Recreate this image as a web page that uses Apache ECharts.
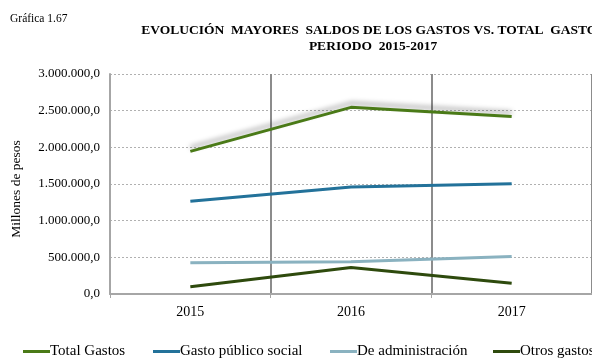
<!DOCTYPE html>
<html>
<head>
<meta charset="utf-8">
<script src="https://cdn.jsdelivr.net/npm/echarts@6/dist/echarts.min.js"></script>
<style>
html,body{margin:0;padding:0;background:#fff;}
#c{width:592px;height:360px;}
</style>
</head>
<body>
<div id="c"></div>
<script>
const categories = ['2015', '2016', '2017'];
const totalGastos = [1945000, 2545000, 2420000];
const gastoPublicoSocial = [1265000, 1460000, 1505000];
const deAdministracion = [425000, 440000, 510000];
const otrosGastos = [100000, 362000, 146000];
const seriesNames = ['Total Gastos', 'Gasto público social', 'De administración', 'Otros gastos'];
const yTicks = [0, 500000, 1000000, 1500000, 2000000, 2500000, 3000000];

const colors = ['#4a7a17', '#23729a', '#8ab2c0', '#2e4a0d'];
const serif = '"Liberation Serif", "DejaVu Serif", serif';

function fmt(v) {
  const s = Math.round(v).toString().replace(/\B(?=(\d{3})+(?!\d))/g, '.');
  return s + ',0';
}

const chart = echarts.init(document.getElementById('c'), null, {renderer: 'canvas'});
const legendLefts = [23, 153, 330, 493];
const dataSets = [totalGastos, gastoPublicoSocial, deAdministracion, otrosGastos];

chart.setOption({
  animation: false,
  backgroundColor: '#fff',
  title: [
    {
      text: 'Gráfica 1.67',
      left: 5, top: 8,
      textStyle: {fontFamily: serif, fontSize: 11.5, fontWeight: 'normal', color: '#000'}
    },
    {
      text: 'EVOLUCIÓN  MAYORES  SALDOS DE LOS GASTOS VS. TOTAL  GASTOS\nPERIODO  2015-2017',
      left: 368, top: 18,
      textAlign: 'center',
      textStyle: {fontFamily: serif, fontSize: 13.5, fontWeight: 'bold', color: '#000', lineHeight: 16, align: 'center'}
    }
  ],
  legend: seriesNames.map((n, i) => ({
    data: [n],
    left: legendLefts[i],
    top: 344,
    itemWidth: 27,
    itemHeight: 3,
    icon: 'rect',
    itemGap: 0,
    textStyle: {fontFamily: serif, fontSize: 15, color: '#000', padding: [0, 0, 0, -5]},
    padding: 0
  })),
  grid: {left: 110, top: 74, width: 484, height: 220, containLabel: false},
  xAxis: {
    type: 'category',
    data: categories,
    boundaryGap: true,
    axisLine: {lineStyle: {color: '#a6a6a6', width: 2}},
    axisTick: {show: true, length: 4, lineStyle: {color: '#a6a6a6', width: 1}},
    axisLabel: {fontFamily: serif, fontSize: 14, color: '#000', margin: 11},
    splitLine: {show: true, showMinLine: false, lineStyle: {color: '#8c8c8c', width: 2}}
  },
  yAxis: {
    type: 'value',
    min: 0, max: 3000000, interval: 500000,
    name: 'Millones de pesos',
    nameLocation: 'middle',
    nameGap: 87,
    nameRotate: 90,
    nameTextStyle: {fontFamily: serif, fontSize: 13.5, color: '#000', padding: [0, 10, 0, 0]},
    axisLine: {show: true, lineStyle: {color: '#a6a6a6', width: 2}},
    axisTick: {show: false},
    axisLabel: {fontFamily: serif, fontSize: 13, color: '#000', margin: 10, formatter: v => fmt(v)},
    splitLine: {show: true, lineStyle: {color: '#b0b0b0', width: 1, type: [2, 2]}}
  },
  series: seriesNames.map((n, i) => ({
    name: n,
    type: 'line',
    data: dataSets[i],
    symbol: 'none',
    color: colors[i],
    lineStyle: Object.assign({color: colors[i], width: 3},
      i === 0 ? {shadowColor: 'rgba(0,0,0,0.35)', shadowBlur: 5, shadowOffsetY: -4} : {}),
    z: 10 - i
  }))
});
</script>
</body>
</html>
